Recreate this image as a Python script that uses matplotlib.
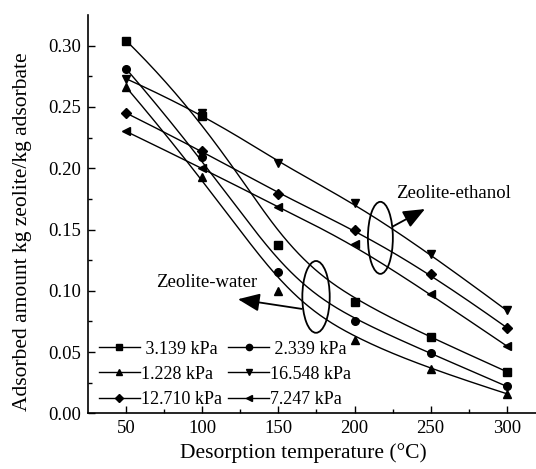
import numpy as np
import matplotlib
matplotlib.use("Agg")
import matplotlib.pyplot as plt
from matplotlib.patches import Ellipse

plt.rcParams['font.family'] = ['Liberation Serif', 'DejaVu Serif']

temps = [50, 100, 150, 200, 250, 300]
labels = [" 3.139 kPa", " 2.339 kPa", "1.228 kPa", "16.548 kPa", "12.710 kPa", "7.247 kPa"]
markers = ['s', 'o', '^', 'v', 'D', '<']
v_3139 = [0.304, 0.243, 0.137, 0.091, 0.062, 0.034]
v_2339 = [0.281, 0.209, 0.115, 0.075, 0.049, 0.022]
v_1228 = [0.266, 0.193, 0.100, 0.060, 0.036, 0.016]
v_16548 = [0.273, 0.245, 0.204, 0.172, 0.130, 0.084]
v_12710 = [0.245, 0.214, 0.179, 0.150, 0.114, 0.070]
v_7247 = [0.230, 0.200, 0.168, 0.138, 0.097, 0.055]
series = [v_3139, v_2339, v_1228, v_16548, v_12710, v_7247]


def bspline(xs, ys, k=3, n=300):
    P = np.column_stack([xs, ys]).astype(float)
    m = len(P)
    k = min(k, m - 1)
    inner = np.linspace(0, 1, m - k + 1)
    t = np.concatenate([np.zeros(k), inner, np.ones(k)])
    u = np.linspace(0, 1, n)
    u[-1] = 1 - 1e-12

    def basis(i, p, uu):
        if p == 0:
            return np.where((t[i] <= uu) & (uu < t[i + 1]), 1.0, 0.0)
        a = np.zeros_like(uu)
        b = np.zeros_like(uu)
        if t[i + p] != t[i]:
            a = (uu - t[i]) / (t[i + p] - t[i]) * basis(i, p - 1, uu)
        if t[i + p + 1] != t[i + 1]:
            b = (t[i + p + 1] - uu) / (t[i + p + 1] - t[i + 1]) * basis(i + 1, p - 1, uu)
        return a + b

    C = np.zeros((n, 2))
    for i in range(m):
        C += basis(i, k, u)[:, None] * P[i]
    return C[:, 0], C[:, 1]


fig = plt.figure(figsize=(5.36, 4.69), dpi=100)
ax = fig.add_axes([0.1647, 0.1188, 0.8515, 0.849])

handles = []
for vals, mk, lab in zip(series, markers, labels):
    cx, cy = bspline(temps, vals)
    ax.plot(cx, cy, color='k', lw=1.0)
    ms = 5.0 if mk == 'D' else 5.5
    ax.plot(temps, vals, linestyle='none', marker=mk, color='k', ms=ms)
    h, = ax.plot([], [], color='k', lw=1.0, marker=mk, ms=4.5 if mk != 'D' else 4.0)
    handles.append((h, lab))

ax.set_xlim(25, 325)
ax.set_ylim(0, 0.325)
ax.set_xticks([50, 100, 150, 200, 250, 300])
ax.set_xticks([75, 125, 175, 225, 275], minor=True)
ax.set_yticks([0, 0.05, 0.10, 0.15, 0.20, 0.25, 0.30])
ax.set_yticks([0.025, 0.075, 0.125, 0.175, 0.225, 0.275], minor=True)
ax.set_yticklabels(["0.00", "0.05", "0.10", "0.15", "0.20", "0.25", "0.30"])
ax.tick_params(which='major', direction='in', length=5, width=1.0, labelsize=13.5, pad=5)
ax.tick_params(which='minor', direction='in', length=3, width=1.0)
for s in ['top', 'right']:
    ax.spines[s].set_visible(False)
for s in ['left', 'bottom']:
    ax.spines[s].set_linewidth(1.2)

fig.text(303.4 / 536, 1 - 453 / 469, "Desorption temperature (°C)", fontsize=15.5,
         ha='center', va='center')
fig.text(23 / 536, 1 - 231.5 / 469, "Adsorbed amount kg zeolite/kg adsorbate", fontsize=15.5,
         ha='center', va='center', rotation=90)

order = [0, 2, 4, 1, 3, 5]
leg = ax.legend([handles[i][0] for i in order], [handles[i][1] for i in order],
                ncol=2, loc='lower left', bbox_to_anchor=(0.011, 0.0), frameon=False,
                fontsize=13, handlelength=2.3, handletextpad=0.05, columnspacing=0.32,
                labelspacing=0.45, borderaxespad=0.2, borderpad=0.1)

ax.add_patch(Ellipse((217, 0.1432), 16.4, 0.0588, fill=False, lw=1.3, color='k'))
ax.add_patch(Ellipse((174.7, 0.095), 18, 0.0586, fill=False, lw=1.3, color='k'))

astyle = '-|>,head_length=0.6,head_width=0.25'
ax.annotate("", xy=(246.3, 0.1667), xytext=(225.2, 0.1525),
            arrowprops=dict(arrowstyle=astyle, mutation_scale=22, lw=1.3, color='k',
                            shrinkA=0, shrinkB=0))
ax.annotate("", xy=(123.4, 0.0931), xytext=(165.3, 0.0852),
            arrowprops=dict(arrowstyle=astyle, mutation_scale=22, lw=1.3, color='k',
                            shrinkA=0, shrinkB=0))
ax.text(227.2, 0.1792, "Zeolite-ethanol", fontsize=13.5, ha='left', va='center')
ax.text(69.7, 0.1067, "Zeolite-water", fontsize=13.5, ha='left', va='center')

fig.savefig("out.png", dpi=100)
